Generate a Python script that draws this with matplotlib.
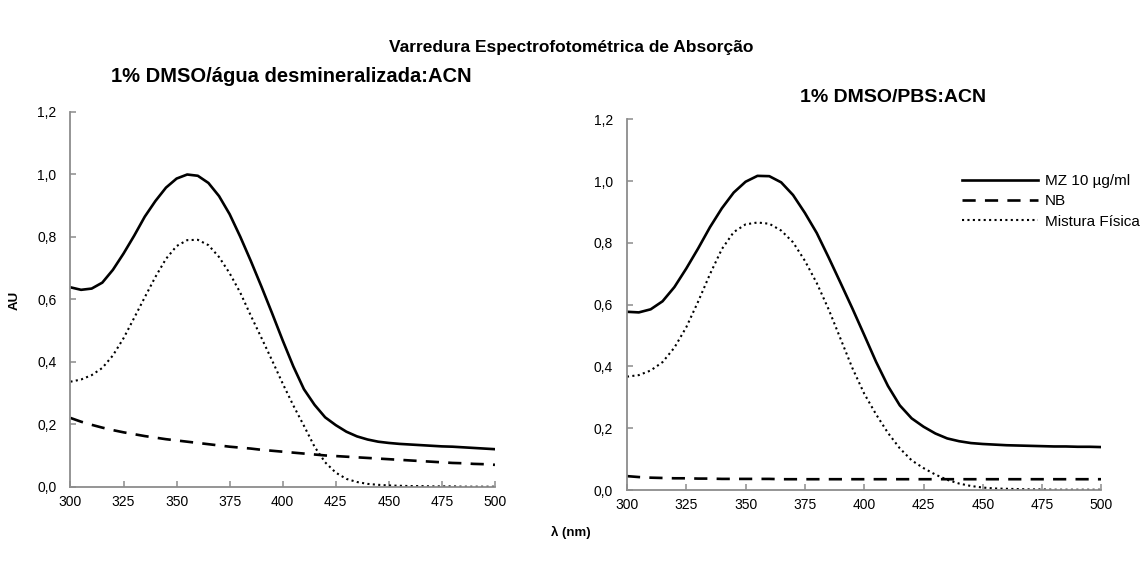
import numpy as np
import matplotlib
matplotlib.use("Agg")
import matplotlib.pyplot as plt
from matplotlib.ticker import FuncFormatter

plt.rcParams['font.family'] = ['Liberation Sans', 'DejaVu Sans']

# wavelength grid (nm)
wl = list(range(300, 505, 5))

# 1% DMSO/água desmineralizada:ACN
mz_agua = [0.638, 0.630, 0.634, 0.653, 0.694, 0.746, 0.803, 0.864, 0.914, 0.957,
           0.986, 0.999, 0.995, 0.972, 0.930, 0.872, 0.800, 0.722, 0.640, 0.555,
           0.468, 0.385, 0.312, 0.262, 0.222, 0.197, 0.176, 0.161, 0.151, 0.144,
           0.140, 0.137, 0.135, 0.133, 0.131, 0.129, 0.128, 0.126, 0.124, 0.122, 0.120]
nb_agua = [0.220, 0.208, 0.198, 0.189, 0.181, 0.174, 0.168, 0.162, 0.157, 0.152,
           0.148, 0.144, 0.140, 0.136, 0.132, 0.128, 0.125, 0.122, 0.118, 0.115,
           0.112, 0.109, 0.106, 0.103, 0.100, 0.098, 0.096, 0.094, 0.092, 0.090,
           0.088, 0.086, 0.084, 0.082, 0.080, 0.078, 0.076, 0.075, 0.073, 0.072, 0.070]
mf_agua = [0.336, 0.343, 0.357, 0.380, 0.420, 0.475, 0.540, 0.606, 0.671, 0.729,
           0.770, 0.789, 0.790, 0.773, 0.735, 0.683, 0.621, 0.547, 0.476, 0.404,
           0.330, 0.260, 0.195, 0.128, 0.078, 0.045, 0.025, 0.015, 0.009, 0.006,
           0.004, 0.003, 0.002, 0.002, 0.001, 0.001, 0.001, 0.000, 0.000, 0.000, 0.000]

# 1% DMSO/PBS:ACN
mz_pbs = [0.577, 0.575, 0.585, 0.611, 0.657, 0.717, 0.782, 0.851, 0.912, 0.963,
          0.998, 1.017, 1.016, 0.996, 0.955, 0.897, 0.832, 0.753, 0.671, 0.588,
          0.502, 0.415, 0.337, 0.274, 0.232, 0.205, 0.183, 0.167, 0.158, 0.152,
          0.149, 0.147, 0.145, 0.144, 0.143, 0.142, 0.141, 0.141, 0.140, 0.140, 0.139]
nb_pbs = [0.045, 0.042, 0.040, 0.039, 0.038, 0.038, 0.037, 0.037, 0.036, 0.036,
          0.036, 0.036, 0.036, 0.035, 0.035, 0.035, 0.035, 0.035, 0.035, 0.035,
          0.035, 0.035, 0.035, 0.035, 0.035, 0.035, 0.035, 0.035, 0.035, 0.035,
          0.035, 0.035, 0.035, 0.035, 0.035, 0.035, 0.035, 0.035, 0.035, 0.035, 0.035]
mf_pbs = [0.367, 0.372, 0.387, 0.414, 0.461, 0.527, 0.610, 0.699, 0.780, 0.835,
          0.860, 0.866, 0.862, 0.840, 0.802, 0.742, 0.670, 0.585, 0.490, 0.395,
          0.312, 0.245, 0.185, 0.135, 0.096, 0.071, 0.050, 0.033, 0.021, 0.013,
          0.008, 0.005, 0.004, 0.003, 0.002, 0.002, 0.001, 0.001, 0.001, 0.001, 0.001]

labels = ['MZ 10 µg/ml', 'NB', 'Mistura Física']
xticks = list(range(300, 525, 25))
yticks = [0.0, 0.2, 0.4, 0.6, 0.8, 1.0, 1.2]

fig = plt.figure(figsize=(11.42, 5.74), dpi=100)
ax1 = fig.add_axes([0.0617, 0.1521, 0.3717, 0.6533])
ax2 = fig.add_axes([0.549, 0.1463, 0.4155, 0.6458])

axis_gray = '#8c8c8c'


def draw(ax, mz, nb, mf):
    ax.plot(wl, mz, color='black', lw=1.9, ls='-', label=labels[0])
    ax.plot(wl, nb, color='black', lw=1.9, ls=(0, (5, 3.5)), label=labels[1])
    ax.plot(wl, mf, color='black', lw=1.5, ls=(0, (1, 1.6)), label=labels[2])
    ax.set_xlim(300, 500)
    ax.set_ylim(0, 1.2)
    ax.set_xticks(xticks)
    ax.set_yticks(yticks)
    ax.yaxis.set_major_formatter(FuncFormatter(lambda v, p: f'{v:.1f}'.replace('.', ',')))
    for s in ['top', 'right']:
        ax.spines[s].set_visible(False)
    for s in ['left', 'bottom']:
        ax.spines[s].set_color(axis_gray)
        ax.spines[s].set_linewidth(1.3)
    ax.tick_params(direction='in', length=4, width=1.1, color=axis_gray,
                   labelsize=10, labelcolor='black')
    ax.tick_params(axis='x', pad=6)
    ax.tick_params(axis='y', pad=10)
    ax.patch.set_alpha(0)


draw(ax1, mz_agua, nb_agua, mf_agua)
draw(ax2, mz_pbs, nb_pbs, mf_pbs)

ax2.legend(loc='upper left', bbox_to_anchor=(0.842, 0.697), bbox_transform=fig.transFigure,
           frameon=False, fontsize=11, handlelength=5.0, handletextpad=0.45,
           labelspacing=0.42, borderaxespad=0, borderpad=0)

fig.text(0.5, 0.918, 'Varredura Espectrofotométrica de Absorção', ha='center', va='center',
         fontsize=12.5, fontweight='bold')
fig.text(0.255, 0.866, '1% DMSO/água desmineralizada:ACN', ha='center', va='center',
         fontsize=14.5, fontweight='bold')
fig.text(0.782, 0.831, '1% DMSO/PBS:ACN', ha='center', va='center',
         fontsize=14, fontweight='bold')
fig.text(0.013, 0.477, 'AU', ha='center', va='center', rotation=90,
         fontsize=9.5, fontweight='bold')
fig.text(0.5, 0.073, 'λ (nm)', ha='center', va='center', fontsize=9.5, fontweight='bold')

fig.savefig('out.png', dpi=100)
